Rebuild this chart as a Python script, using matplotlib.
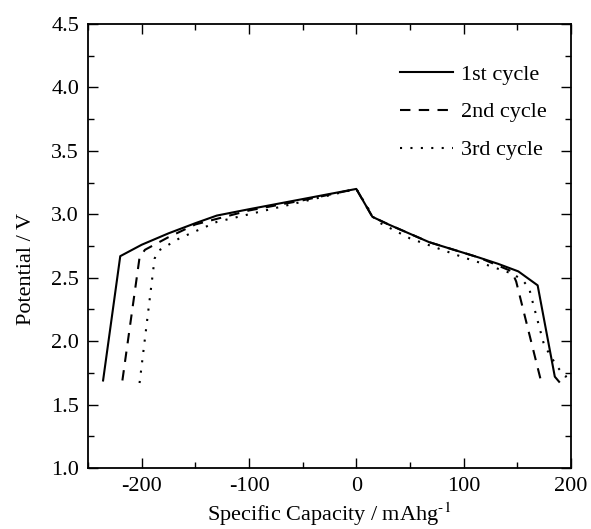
import numpy as np
import matplotlib
matplotlib.use("Agg")
import matplotlib.pyplot as plt
from matplotlib.ticker import MultipleLocator, FormatStrFormatter

plt.rcParams['font.family'] = ['Liberation Serif', 'DejaVu Serif']
plt.rcParams['mathtext.fontset'] = 'stix'
plt.rcParams['axes.unicode_minus'] = False

# capacity (mAh/g), potential (V)
cap1 = [-236, -220, -200, -175, -150, -130, -100, -50, 0,
        15, 30, 68, 114, 132, 151, 169, 185, 189]
pot1 = [1.69, 2.67, 2.76, 2.85, 2.93, 2.99, 3.04, 3.12, 3.20,
        2.98, 2.92, 2.78, 2.66, 2.61, 2.55, 2.44, 1.72, 1.68]

cap2 = [-218, -202, -197, -175, -150, -100, -50, 0,
        15, 30, 68, 114, 145, 149, 172]
pot2 = [1.69, 2.66, 2.72, 2.82, 2.92, 3.03, 3.11, 3.20,
        2.98, 2.92, 2.78, 2.66, 2.55, 2.47, 1.69]

cap3 = [-202, -188, -185, -165, -130, -100, -50, 0,
        18, 50, 100, 122, 146, 155, 161, 164, 175, 187, 195, 199]
pot3 = [1.67, 2.65, 2.71, 2.81, 2.94, 3.00, 3.10, 3.20,
        2.95, 2.81, 2.66, 2.60, 2.53, 2.48, 2.42, 2.32, 1.97, 1.80, 1.72, 1.74]

labels = ['1st cycle', '2nd cycle', '3rd cycle']

fig = plt.figure(figsize=(5.91, 5.29), dpi=100)
ax = fig.add_axes([0.149, 0.1153, 0.817, 0.8393])

ax.plot(cap1, pot1, color='black', lw=1.5, ls='-', label=labels[0])
ax.plot(cap2, pot2, color='black', lw=1.5, ls=(0, (5, 4)), label=labels[1])
ax.plot(cap3, pot3, color='black', lw=1.5, ls=(0, (1, 4)), label=labels[2])

ax.set_xlim(-250, 200)
ax.set_ylim(1.0, 4.5)
ax.xaxis.set_major_locator(MultipleLocator(100))
ax.xaxis.set_minor_locator(MultipleLocator(50))
ax.yaxis.set_major_locator(MultipleLocator(0.5))
ax.yaxis.set_minor_locator(MultipleLocator(0.25))
ax.yaxis.set_major_formatter(FormatStrFormatter('%.1f'))
ax.tick_params(which='both', direction='in', top=True, right=True,
               labelsize=16, pad=6.5, width=1)
ax.tick_params(which='major', length=7)
ax.tick_params(which='minor', length=4)
for s in ax.spines.values():
    s.set_linewidth(1.3)

ax.set_xlabel(r'Specific Capacity / mAhg$^{\text{-1}}$', fontsize=16, labelpad=3)
ax.set_ylabel('Potential / V', fontsize=16)
ax.yaxis.set_label_coords(-0.107, 0.448)

ax.legend(loc='upper left', frameon=False, fontsize=16, handlelength=2.4,
          handletextpad=0.36, labelspacing=0.78, borderpad=0, borderaxespad=0,
          bbox_to_anchor=(0.646, 0.91))

fig.savefig('out.png', dpi=100)
